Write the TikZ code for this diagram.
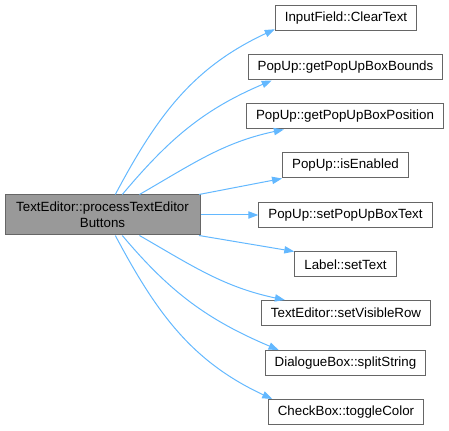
\documentclass[tikz,border=0pt]{standalone}
\usepackage{fontspec}
\setmainfont{Liberation Sans}
\usetikzlibrary{arrows.meta,positioning}

\definecolor{edgeblue}{HTML}{63B8FF}
\definecolor{boxgray}{HTML}{999999}
\definecolor{linegray}{HTML}{666666}

\tikzset{
  fn/.style={draw=linegray, fill=white, line width=0.75pt, minimum height=18.75pt,
    inner xsep=7.2pt, inner ysep=0pt, font=\fontsize{10}{12}\selectfont},
  caller/.style={fn, fill=boxgray, align=center, minimum width=146.25pt, minimum height=30pt},
  call/.style={draw=edgeblue, line width=0.75pt, -{Triangle[length=7.5pt,width=5.5pt]}}
}

\begin{document}
\begin{tikzpicture}[x=0.75pt, y=0.75pt]
    \useasboundingbox (0,0) rectangle (449,431);

    % caller
    \node[caller] (M) at (102.5,216) {TextEditor::processTextEditor\\Buttons};

    % callees
    \node[fn] (C1) at (346,413)   {InputField::ClearText};
    \node[fn] (C2) at (345.5,363.5) {PopUp::getPopUpBoxBounds};
    \node[fn] (C3) at (345,314.5) {PopUp::getPopUpBoxPosition};
    \node[fn] (C4) at (345.5,265.5) {PopUp::isEnabled};
    \node[fn] (C5) at (345.5,216) {PopUp::setPopUpBoxText};
    \node[fn] (C6) at (345.5,166.5) {Label::setText};
    \node[fn] (C7) at (346,118)   {TextEditor::setVisibleRow};
    \node[fn] (C8) at (345.5,68)  {DialogueBox::splitString};
    \node[fn] (C9) at (346,19)    {CheckBox::toggleColor};

    % calls
    \draw[call] (M.58) to[out=62, in=205] (C1.189);
    \draw[call] (M.46) to[out=50, in=203] (C2.190);
    \draw[call] (M.29) to[out=30, in=192] (C3.192);
    \draw[call] (M.12) -- (C4.south west);
    \draw[call] (M.east) -- (C5.west);
    \draw[call] (M.-12) -- (C6.north west);
    \draw[call] (M.-29) to[out=-30, in=168] (C7.168);
    \draw[call] (M.-46) to[out=-50, in=157] (C8.169);
    \draw[call] (M.-58) to[out=-62, in=155] (C9.170);
\end{tikzpicture}
\end{document}
